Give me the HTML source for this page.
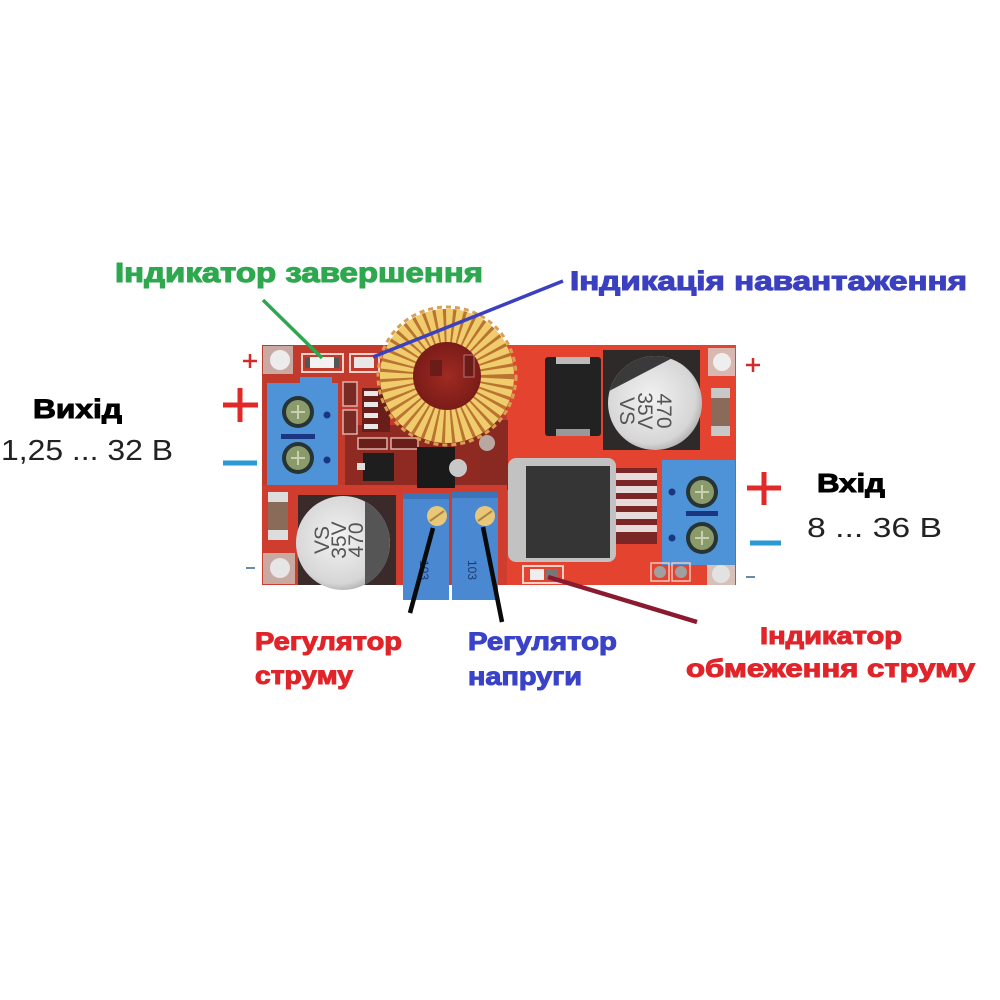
<!DOCTYPE html>
<html><head><meta charset="utf-8"><style>
html,body{margin:0;padding:0;background:#fff;}
svg{display:block;}
text{font-family:"Liberation Sans",Arial,sans-serif;}
</style></head><body>
<svg width="1000" height="1000" viewBox="0 0 1000 1000" xmlns="http://www.w3.org/2000/svg">
<defs>
<radialGradient id="capg" cx="0.45" cy="0.45" r="0.6">
<stop offset="0" stop-color="#f2f2f2"/><stop offset="0.8" stop-color="#d6d6d6"/><stop offset="1" stop-color="#a8a8a8"/>
</radialGradient>
<radialGradient id="core" cx="0.5" cy="0.5" r="0.5">
<stop offset="0" stop-color="#a02a22"/><stop offset="1" stop-color="#7a1c18"/>
</radialGradient>
</defs>
<rect width="1000" height="1000" fill="#fff"/>

<!-- board -->
<rect x="262" y="345" width="474" height="240" fill="#e4432f"/>
<rect x="262" y="345" width="245" height="240" fill="#c23a2c"/>
<rect x="345" y="425" width="162" height="65" fill="#8e2a22"/>
<rect x="480" y="420" width="28" height="70" fill="#8a2822"/>
<rect x="262" y="485" width="245" height="100" fill="#cf3d2e"/>

<!-- holes -->
<rect x="263" y="346" width="30" height="28" fill="#c9aaa2"/>
<circle cx="280" cy="360" r="10" fill="#ececec"/>
<rect x="263" y="553" width="32" height="31" fill="#c9aaa2"/>
<circle cx="280" cy="568" r="10" fill="#e6e6e6"/>
<rect x="708" y="348" width="27" height="28" fill="#d8b8b0"/>
<circle cx="722" cy="362" r="9" fill="#eeeeee"/>
<rect x="707" y="562" width="28" height="23" fill="#d8c0ba"/>
<circle cx="721" cy="574" r="9" fill="#e2e2e2"/>

<!-- top LEDs -->
<rect x="302" y="354" width="41" height="18" fill="none" stroke="#f0d0c8" stroke-width="2"/>
<rect x="310" y="357" width="24" height="11" fill="#f2f2f2"/>
<rect x="305" y="358" width="5" height="10" fill="#555"/>
<rect x="334" y="358" width="5" height="10" fill="#555"/>
<rect x="350" y="354" width="29" height="18" fill="none" stroke="#f0d0c8" stroke-width="2"/>
<rect x="354" y="357" width="20" height="11" fill="#e8e8e8"/>

<!-- small smd left column -->
<rect x="343" y="382" width="14" height="24" fill="#7a2a24" stroke="#e0b0a8" stroke-width="1.5"/>
<rect x="343" y="410" width="14" height="24" fill="#7a2a24" stroke="#e0b0a8" stroke-width="1.5"/>
<rect x="362" y="388" width="28" height="44" fill="#6a1e1a"/>
<rect x="364" y="391" width="14" height="5" fill="#e8e8e8"/>
<rect x="364" y="402" width="14" height="5" fill="#e8e8e8"/>
<rect x="364" y="413" width="14" height="5" fill="#e8e8e8"/>
<rect x="364" y="424" width="14" height="5" fill="#e8e8e8"/>
<rect x="358" y="438" width="29" height="11" fill="#6a1e1a" stroke="#e0b0a8" stroke-width="1.5"/>
<rect x="391" y="438" width="27" height="11" fill="#6a1e1a" stroke="#e0b0a8" stroke-width="1.5"/>
<rect x="363" y="453" width="31" height="28" fill="#1e1e1e"/>
<rect x="357" y="463" width="8" height="7" fill="#ddd"/>
<rect x="417" y="447" width="38" height="41" fill="#1a1a1a"/>
<circle cx="458" cy="468" r="9" fill="#c8c8c8"/>
<circle cx="487" cy="443" r="8" fill="#b8a8a0"/>

<!-- toroid -->
<circle cx="447" cy="376" r="69" fill="none" stroke="#d8a050" stroke-width="3" stroke-dasharray="5 4"/>
<circle cx="447" cy="376" r="67" fill="#d69a48"/>
<circle cx="447" cy="376" r="50" fill="none" stroke="#f0cc6c" stroke-width="34"/>
<circle cx="447" cy="376" r="50" fill="none" stroke="#b87430" stroke-width="34" stroke-dasharray="2.5 5.5"/>
<circle cx="447" cy="376" r="34" fill="url(#core)"/>
<rect x="464" y="355" width="10" height="22" fill="#6a1c18" stroke="#c07070" stroke-width="1"/>
<rect x="430" y="360" width="12" height="16" fill="#6a1c18"/>

<!-- black square component -->
<rect x="545" y="357" width="56" height="79" rx="3" fill="#222"/>
<rect x="556" y="357" width="34" height="7" fill="#bbb"/>
<rect x="556" y="429" width="34" height="7" fill="#999"/>

<!-- top cap -->
<rect x="603" y="350" width="97" height="100" fill="#2e2a2a"/>
<circle cx="655" cy="403" r="47" fill="url(#capg)"/>
<path d="M609.6 390.8 A47 47 0 0 1 671 358.8 Z" fill="#3a3a3a"/>
<g transform="translate(655,403) rotate(90)" fill="#555" font-size="21" text-anchor="middle">
<text x="8" y="-2">470</text>
<text x="8" y="17">35V</text>
<text x="8" y="35">VS</text>
</g>

<!-- right resistor -->
<rect x="711" y="388" width="19" height="48" fill="#8a6a58"/>
<rect x="711" y="388" width="19" height="10" fill="#c8c8c8"/>
<rect x="711" y="426" width="19" height="10" fill="#c8c8c8"/>

<!-- big IC -->
<rect x="605" y="468" width="52" height="76" fill="#7a2626"/>
<rect x="605" y="473" width="52" height="7" fill="#e6dada"/>
<rect x="605" y="486" width="52" height="7" fill="#e6dada"/>
<rect x="605" y="499" width="52" height="7" fill="#e6dada"/>
<rect x="605" y="512" width="52" height="7" fill="#e6dada"/>
<rect x="605" y="525" width="52" height="7" fill="#e6dada"/>
<rect x="508" y="458" width="108" height="104" rx="8" fill="#c2c2c2"/>
<rect x="526" y="466" width="84" height="92" fill="#353535"/>

<!-- right terminal -->
<rect x="662" y="460" width="73" height="105" fill="#4e92d8"/>
<circle cx="702" cy="492" r="16" fill="#263434"/>
<circle cx="702" cy="492" r="12" fill="#8a9a6a"/>
<path d="M695 492 H709 M702 485 V499" stroke="#c8d0b0" stroke-width="2"/>
<circle cx="702" cy="538" r="16" fill="#263434"/>
<circle cx="702" cy="538" r="12" fill="#8a9a6a"/>
<path d="M695 538 H709 M702 531 V545" stroke="#c8d0b0" stroke-width="2"/>
<circle cx="672" cy="492" r="3.5" fill="#1a3680"/>
<circle cx="672" cy="538" r="3.5" fill="#1a3680"/>
<rect x="686" y="511" width="32" height="5" fill="#1a3680"/>

<!-- bottom LED and pads -->
<rect x="523" y="566" width="40" height="17" fill="none" stroke="#f0d0c8" stroke-width="2"/>
<rect x="530" y="569" width="14" height="11" fill="#eee"/>
<rect x="546" y="569" width="12" height="11" fill="#777"/>
<rect x="651" y="563" width="18" height="18" fill="none" stroke="#f0c8c0" stroke-width="1.5"/>
<circle cx="660" cy="572" r="6" fill="#a0a0a0"/>
<rect x="672" y="563" width="18" height="18" fill="none" stroke="#f0c8c0" stroke-width="1.5"/>
<circle cx="681" cy="572" r="6" fill="#a0a0a0"/>

<!-- left terminal -->
<rect x="300" y="377" width="32" height="8" fill="#4e92d8"/>
<rect x="267" y="383" width="71" height="102" fill="#4e92d8"/>
<circle cx="298" cy="412" r="16" fill="#263434"/>
<circle cx="298" cy="412" r="12" fill="#8a9a6a"/>
<path d="M291 412 H305 M298 405 V419" stroke="#c8d0b0" stroke-width="2"/>
<circle cx="298" cy="458" r="16" fill="#263434"/>
<circle cx="298" cy="458" r="12" fill="#8a9a6a"/>
<path d="M291 458 H305 M298 451 V465" stroke="#c8d0b0" stroke-width="2"/>
<circle cx="327" cy="415" r="3.5" fill="#1a3680"/>
<circle cx="327" cy="460" r="3.5" fill="#1a3680"/>
<rect x="281" y="434" width="34" height="5" fill="#1a3680"/>

<!-- bottom left resistor -->
<rect x="268" y="492" width="20" height="48" fill="#8a6a58"/>
<rect x="268" y="492" width="20" height="10" fill="#dcdcdc"/>
<rect x="268" y="530" width="20" height="10" fill="#dcdcdc"/>

<!-- bottom cap -->
<rect x="298" y="495" width="98" height="90" fill="#3a2a2a"/>
<circle cx="343" cy="543" r="47" fill="url(#capg)"/>
<path d="M365 501.5 A47 47 0 0 1 365 584.5 Z" fill="#555"/>
<g transform="translate(343,540) rotate(-90)" fill="#555" font-size="21" text-anchor="middle">
<text x="0" y="-14">VS</text>
<text x="0" y="3">35V</text>
<text x="0" y="20">470</text>
</g>

<!-- pots -->
<rect x="403" y="493" width="46" height="107" fill="#4a88d2"/>
<rect x="452" y="492" width="46" height="108" fill="#4a88d2"/>
<rect x="403" y="493" width="46" height="6" fill="#3c74b8"/>
<rect x="452" y="492" width="46" height="6" fill="#3c74b8"/>
<circle cx="437" cy="516" r="10" fill="#e8c878"/>
<path d="M430 521 L444 511" stroke="#a88840" stroke-width="2"/>
<circle cx="485" cy="516" r="10" fill="#e8c878"/>
<path d="M478 521 L492 511" stroke="#a88840" stroke-width="2"/>
<g fill="#1e3a70" font-size="12">
<text transform="translate(420,560) rotate(90)">103</text>
<text transform="translate(468,560) rotate(90)">103</text>
</g>

<!-- connectors -->
<line x1="263" y1="300" x2="322" y2="358" stroke="#2ea84f" stroke-width="3.5"/>
<line x1="563" y1="281" x2="373" y2="357" stroke="#3a40c0" stroke-width="3.5"/>
<line x1="433" y1="528" x2="410" y2="613" stroke="#0a0a0a" stroke-width="4.5"/>
<line x1="483" y1="527" x2="502" y2="622" stroke="#0a0a0a" stroke-width="4.5"/>
<line x1="548" y1="577" x2="697" y2="622" stroke="#8a1a30" stroke-width="4.5"/>

<!-- +/- signs -->
<path d="M243 361 H257 M250 354 V368" stroke="#d42a2a" stroke-width="2.5"/>
<path d="M223 405 H258 M240 388 V422" stroke="#e02a2a" stroke-width="5"/>
<path d="M223 463 H257" stroke="#2a9ad6" stroke-width="5"/>
<path d="M246 568 H255" stroke="#6a8aaa" stroke-width="2"/>
<path d="M746 365 H760 M753 358 V372" stroke="#d42a2a" stroke-width="2.5"/>
<path d="M747 488 H781 M764 472 V505" stroke="#e02a2a" stroke-width="5"/>
<path d="M750 543 H781" stroke="#2a9ad6" stroke-width="5"/>
<path d="M746 577 H755" stroke="#6a8aaa" stroke-width="2"/>

<!-- labels -->
<text x="115" y="282" font-size="28" font-weight="bold" fill="#2ea84f" stroke="#2ea84f" stroke-width="1.1" textLength="368" lengthAdjust="spacingAndGlyphs">Індикатор завершення</text>
<text x="570" y="290" font-size="27" font-weight="bold" fill="#3a40c0" stroke="#3a40c0" stroke-width="1.1" textLength="397" lengthAdjust="spacingAndGlyphs">Індикація навантаження</text>
<text x="33" y="418" font-size="27" font-weight="bold" fill="#000" stroke="#000" stroke-width="1" textLength="89" lengthAdjust="spacingAndGlyphs">Вихід</text>
<text x="1" y="460" font-size="29" fill="#222" textLength="172" lengthAdjust="spacingAndGlyphs">1,25  ...  32 В</text>
<text x="817" y="492" font-size="26" font-weight="bold" fill="#000" stroke="#000" stroke-width="1" textLength="68" lengthAdjust="spacingAndGlyphs">Вхід</text>
<text x="807" y="537" font-size="28" fill="#222" textLength="135" lengthAdjust="spacingAndGlyphs">8  ... 36 В</text>
<text x="255" y="650" font-size="25" font-weight="bold" fill="#e0242a" stroke="#e0242a" stroke-width="1" textLength="147" lengthAdjust="spacingAndGlyphs">Регулятор</text>
<text x="255" y="684" font-size="25" font-weight="bold" fill="#e0242a" stroke="#e0242a" stroke-width="1" textLength="98" lengthAdjust="spacingAndGlyphs">струму</text>
<text x="468" y="650" font-size="25" font-weight="bold" fill="#3a43c8" stroke="#3a43c8" stroke-width="1" textLength="149" lengthAdjust="spacingAndGlyphs">Регулятор</text>
<text x="468" y="685" font-size="25" font-weight="bold" fill="#3a43c8" stroke="#3a43c8" stroke-width="1" textLength="114" lengthAdjust="spacingAndGlyphs">напруги</text>
<text x="760" y="644" font-size="24" font-weight="bold" fill="#e0242a" stroke="#e0242a" stroke-width="1" textLength="142" lengthAdjust="spacingAndGlyphs">Індикатор</text>
<text x="686" y="677" font-size="25" font-weight="bold" fill="#e0242a" stroke="#e0242a" stroke-width="1" textLength="289" lengthAdjust="spacingAndGlyphs">обмеження струму</text>
</svg>
</body></html>
